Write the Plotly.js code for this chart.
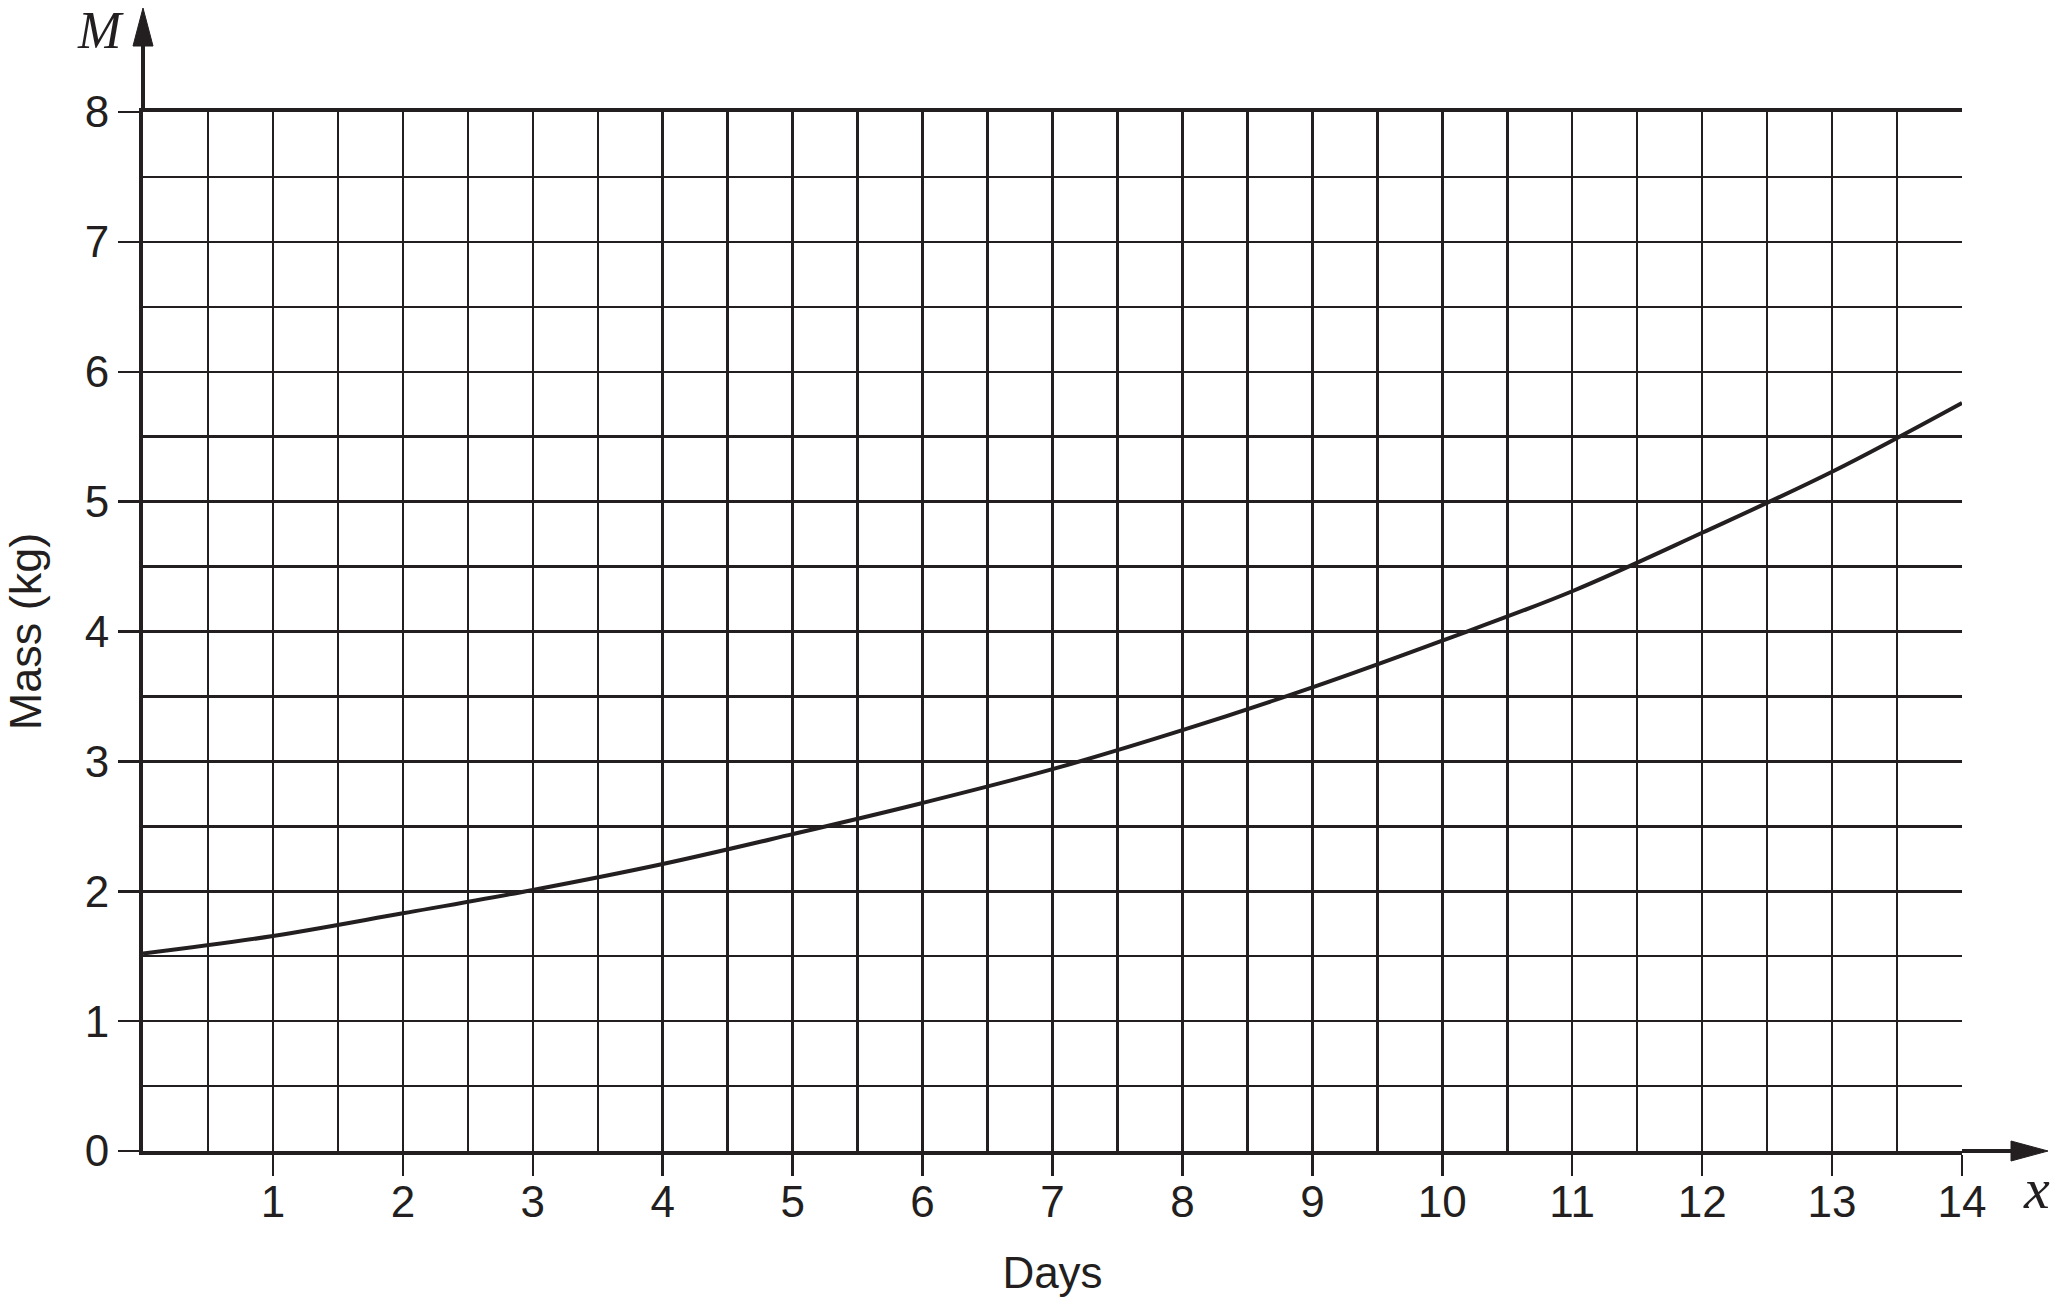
<!DOCTYPE html>
<html>
<head>
<meta charset="utf-8">
<script src="https://cdn.plot.ly/plotly-3.0.1.min.js"></script>
<style>
  html, body { margin: 0; padding: 0; background: #ffffff; }
  #chart { width: 2062px; height: 1309px; }
</style>
</head>
<body>
<div id="chart"></div>
<script>
// ---- Data ----
const days = [0, 1, 2, 3, 4, 5, 6, 7, 8, 9, 10, 11, 12, 13, 14];
const massKg = [1.52, 1.655, 1.83, 2.01, 2.21, 2.44, 2.68, 2.94, 3.24, 3.57, 3.93, 4.31, 4.76, 5.23, 5.76];
const xTickVals = [1, 2, 3, 4, 5, 6, 7, 8, 9, 10, 11, 12, 13, 14];
const yTickVals = [0, 1, 2, 3, 4, 5, 6, 7, 8];
const xTitle = 'Days';
const yTitle = 'Mass (kg)';
const xAxisSymbol = 'x';
const yAxisSymbol = 'M';

// ---- Layout geometry ----
const W = 2062, H = 1309;
const M = { l: 143, r: 100, t: 112, b: 158 };
const plotW = W - M.l - M.r;
const plotH = H - M.t - M.b;
const ink = '#231f20';
const px2x = p => (p - M.l) / plotW;          // pixel -> paper x
const py2y = p => (H - M.b - p) / plotH;      // pixel -> paper y

const trace = {
  x: days,
  y: massKg,
  type: 'scatter',
  mode: 'lines',
  line: { color: ink, width: 4, shape: 'spline', smoothing: 1 },
  hoverinfo: 'skip',
  showlegend: false
};

const font = { family: '"Liberation Sans", Arial, Helvetica, sans-serif', color: ink };

const arrowShapes = [
  // y-axis extension + arrowhead
  { type: 'line', xref: 'paper', yref: 'paper', x0: 0, x1: 0, y0: 1, y1: py2y(44),
    line: { color: ink, width: 4 } },
  { type: 'path', xref: 'paper', yref: 'paper',
    path: `M ${px2x(133)} ${py2y(46)} L ${px2x(143)} ${py2y(8)} L ${px2x(153)} ${py2y(46)} Z`,
    fillcolor: ink, line: { color: ink, width: 1 } },
  // x-axis extension + arrowhead
  { type: 'line', xref: 'paper', yref: 'paper', x0: 1, x1: px2x(2012), y0: 0, y1: 0,
    line: { color: ink, width: 4 } },
  { type: 'path', xref: 'paper', yref: 'paper',
    path: `M ${px2x(2011)} ${py2y(1141)} L ${px2x(2048)} ${py2y(1151)} L ${px2x(2011)} ${py2y(1161)} Z`,
    fillcolor: ink, line: { color: ink, width: 1 } }
];

const layout = {
  width: W, height: H,
  margin: M,
  paper_bgcolor: '#ffffff',
  plot_bgcolor: '#ffffff',
  font: font,
  showlegend: false,
  xaxis: {
    range: [0, 14],
    tickmode: 'array',
    tickvals: xTickVals,
    ticks: 'outside', ticklen: 21, tickwidth: 2.5, tickcolor: ink,
    ticklabelstandoff: -12,
    tickfont: { family: font.family, size: 44, color: ink },
    showgrid: true, gridcolor: ink, gridwidth: 2.5,
    minor: { dtick: 0.5, tick0: 0, showgrid: true, gridcolor: ink, gridwidth: 2.5, ticks: '' },
    showline: true, linecolor: ink, linewidth: 4, mirror: true,
    zeroline: false, fixedrange: true,
    title: { text: xTitle, font: { family: font.family, size: 44, color: ink }, standoff: 33 },
    automargin: false
  },
  yaxis: {
    range: [0, 8],
    tickmode: 'array',
    tickvals: yTickVals,
    ticks: 'outside', ticklen: 21, tickwidth: 2.5, tickcolor: ink,
    tickfont: { family: font.family, size: 44, color: ink },
    showgrid: true, gridcolor: ink, gridwidth: 2.5,
    minor: { dtick: 0.5, tick0: 0, showgrid: true, gridcolor: ink, gridwidth: 2.5, ticks: '' },
    showline: true, linecolor: ink, linewidth: 4, mirror: false,
    zeroline: false, fixedrange: true,
    title: { text: yTitle, font: { family: font.family, size: 45, color: ink }, standoff: 32 },
    automargin: false
  },
  shapes: arrowShapes,
  annotations: [
    { text: '<i>' + yAxisSymbol + '</i>', xref: 'paper', yref: 'paper',
      x: px2x(100), y: py2y(30), xanchor: 'center', yanchor: 'middle', showarrow: false,
      font: { family: '"Liberation Serif", "Times New Roman", serif', size: 52, color: ink } },
    { text: '<i>' + xAxisSymbol + '</i>', xref: 'paper', yref: 'paper',
      x: px2x(2036), y: py2y(1188), xanchor: 'center', yanchor: 'middle', showarrow: false,
      font: { family: '"Liberation Serif", "Times New Roman", serif', size: 58, color: ink } }
  ]
};

Plotly.newPlot('chart', [trace], layout, { displayModeBar: false, staticPlot: true });
</script>
</body>
</html>
